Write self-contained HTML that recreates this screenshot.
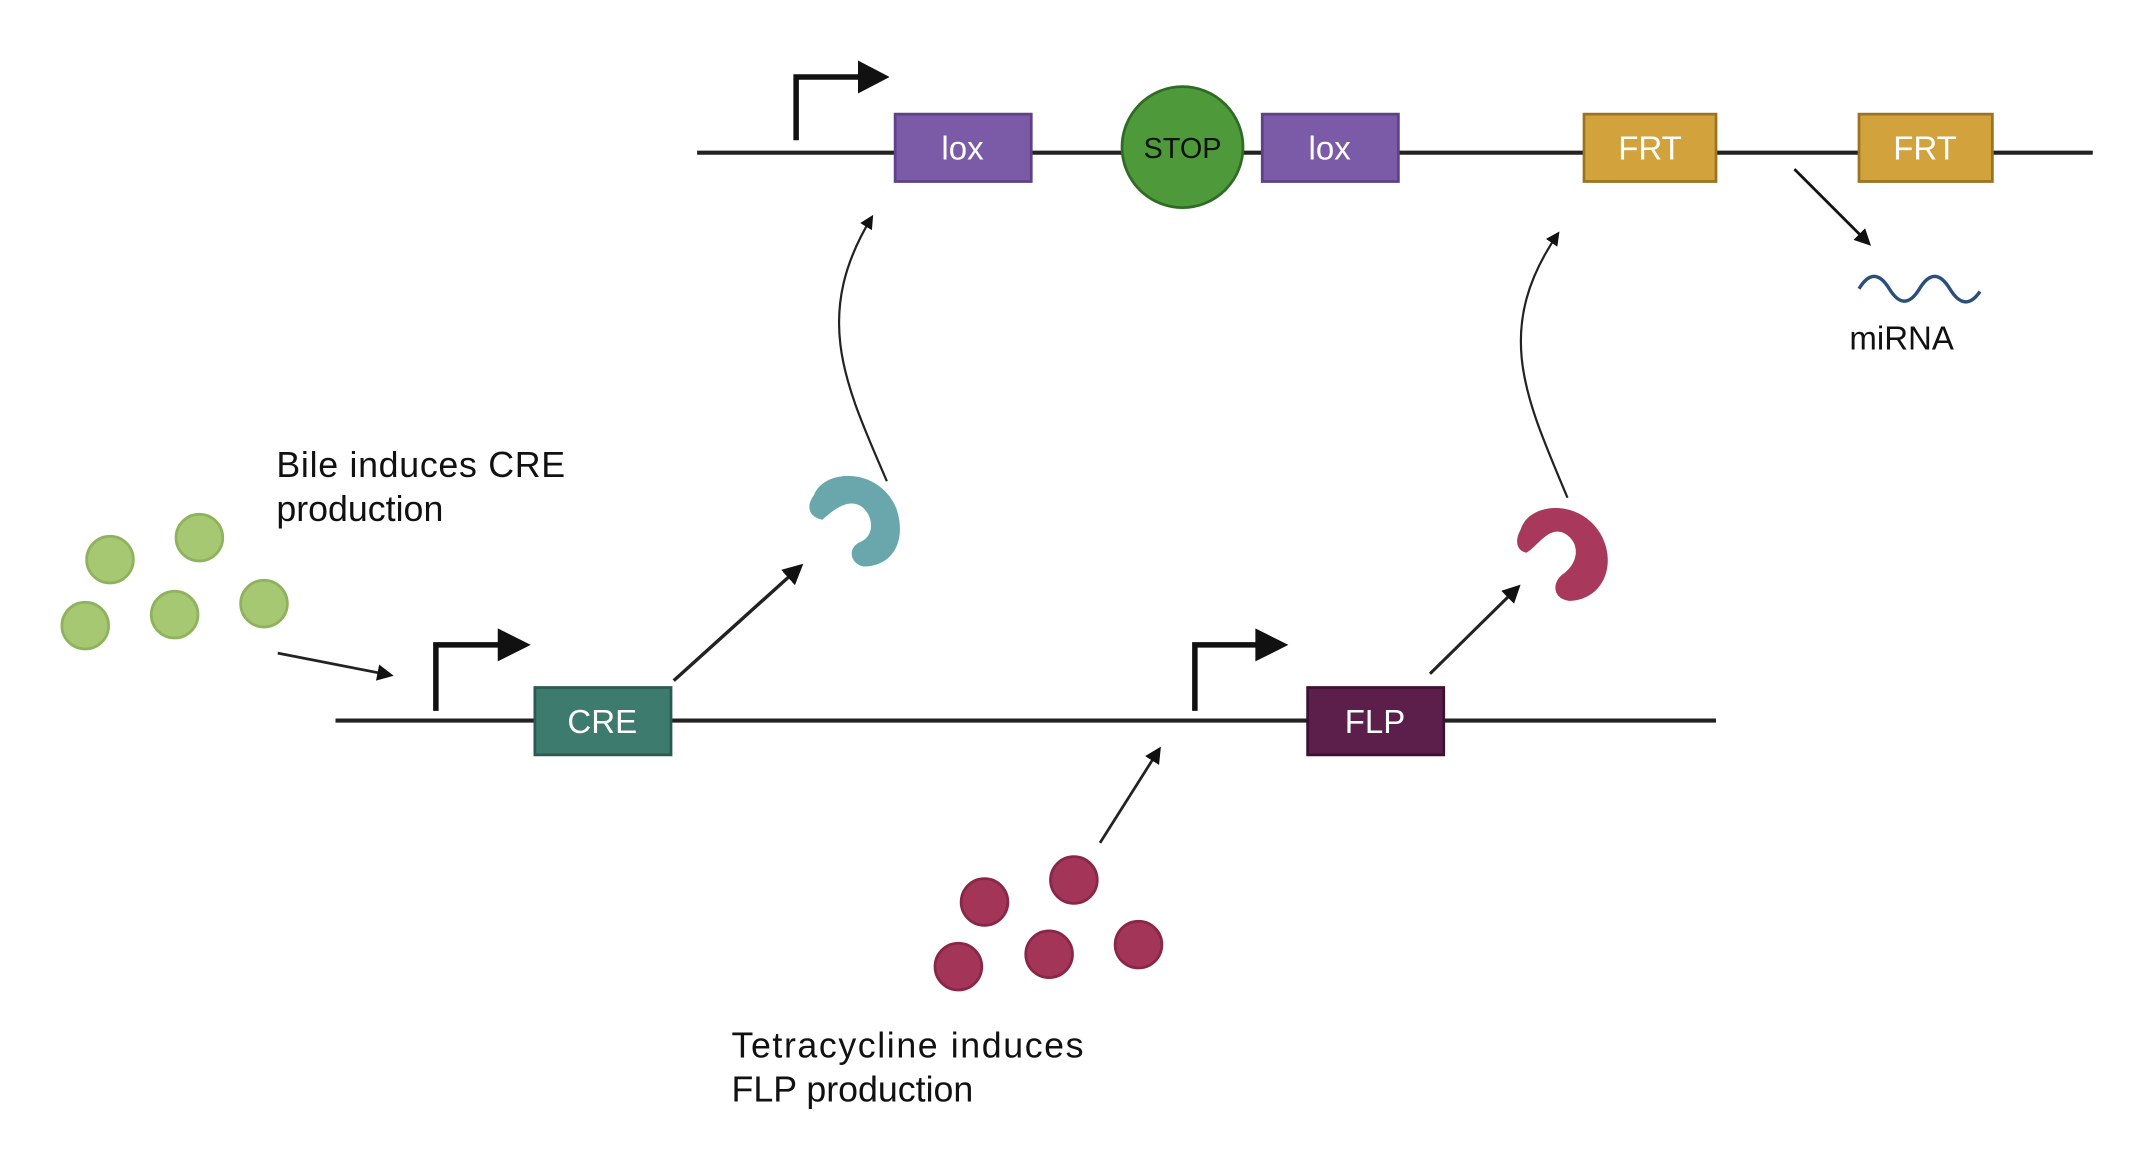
<!DOCTYPE html>
<html><head><meta charset="utf-8"><style>
html,body{margin:0;padding:0;background:#fff;}
svg{display:block;font-family:"Liberation Sans",sans-serif;}
</style></head><body>
<svg width="2145" height="1166" viewBox="0 0 1560 848" preserveAspectRatio="none">
<defs>
<marker id="ah" viewBox="0 0 10 10" refX="8" refY="5" markerWidth="6" markerHeight="6" orient="auto"><path d="M0,0 L10,5 L0,10 z" fill="#111"/></marker>
<marker id="ah2" viewBox="0 0 10 10" refX="8" refY="5" markerWidth="10" markerHeight="10" orient="auto" markerUnits="userSpaceOnUse"><path d="M0,0 L10,5 L0,10 z" fill="#111"/></marker>
</defs>
<rect width="1560" height="848" fill="#fff"/>
<line x1="507" y1="111" x2="1522" y2="111" stroke="#222" stroke-width="3"/>
<g><path d="M579,102 V56 H626" fill="none" stroke="#111" stroke-width="4"/><path d="M624,44 L647,56 L624,68 z" fill="#111"/></g>
<g><rect x="651" y="83" width="99" height="49" fill="#7b5aa8" stroke="#5e4288" stroke-width="2"/><text x="700" y="116" text-anchor="middle" font-size="24" fill="#fff">lox</text></g>
<g><circle cx="860" cy="107" r="44" fill="#4e9a3a" stroke="#2f6b25" stroke-width="2"/><text x="860" y="115" text-anchor="middle" font-size="21" fill="#111">STOP</text></g>
<g><rect x="918" y="83" width="99" height="49" fill="#7b5aa8" stroke="#5e4288" stroke-width="2"/><text x="967" y="116" text-anchor="middle" font-size="24" fill="#fff">lox</text></g>
<g><rect x="1152" y="83" width="96" height="49" fill="#d2a33c" stroke="#9c7420" stroke-width="2"/><text x="1200" y="116" text-anchor="middle" font-size="24" fill="#fff">FRT</text></g>
<g><rect x="1352" y="83" width="97" height="49" fill="#d2a33c" stroke="#9c7420" stroke-width="2"/><text x="1400" y="116" text-anchor="middle" font-size="24" fill="#fff">FRT</text></g>
<line x1="1305" y1="123" x2="1359" y2="177" stroke="#111" stroke-width="2" marker-end="url(#ah)"/>
<path d="M1352,210 Q1363,192 1374,210 T1396,210 T1418,210 T1440,212" fill="none" stroke="#2b4f7a" stroke-width="2.5"/>
<text x="1345" y="254" font-size="24" fill="#111">miRNA</text>
<path d="M645,350 C615,280 590,230 634,158" fill="none" stroke="#222" stroke-width="1.6" marker-end="url(#ah2)"/>
<path d="M1140,362 C1110,290 1085,240 1133,170" fill="none" stroke="#222" stroke-width="1.6" marker-end="url(#ah2)"/>
<line x1="244" y1="524" x2="1248" y2="524" stroke="#222" stroke-width="3"/>
<g><path d="M317,517 V469 H364" fill="none" stroke="#111" stroke-width="4"/><path d="M362,457 L386,469 L362,481 z" fill="#111"/></g>
<g><path d="M869,517 V469 H915" fill="none" stroke="#111" stroke-width="4"/><path d="M913,457 L937,469 L913,481 z" fill="#111"/></g>
<g><rect x="389" y="500" width="99" height="49" fill="#3e7b6f" stroke="#2a5a50" stroke-width="2"/><text x="438" y="533" text-anchor="middle" font-size="24" fill="#fff">CRE</text></g>
<g><rect x="951" y="500" width="99" height="49" fill="#5c1f4c" stroke="#3e1032" stroke-width="2"/><text x="1000" y="533" text-anchor="middle" font-size="24" fill="#fff">FLP</text></g>
<line x1="490" y1="495" x2="582" y2="412" stroke="#222" stroke-width="2.5" marker-end="url(#ah)"/>
<line x1="1040" y1="490" x2="1104" y2="427" stroke="#222" stroke-width="2.2" marker-end="url(#ah)"/>
<line x1="202" y1="475" x2="284" y2="491" stroke="#222" stroke-width="2" marker-end="url(#ah)"/>
<line x1="800" y1="613" x2="843" y2="545" stroke="#222" stroke-width="2" marker-end="url(#ah)"/>
<path d="M592,360 C600,340 640,340 652,370 C660,395 648,412 628,412 C618,410 616,398 626,394 C636,390 636,375 626,368 C616,362 605,372 598,378 C588,376 586,368 592,360 z" fill="#6aa7ad"/>
<path d="M1106,385 C1112,365 1150,362 1165,390 C1176,412 1165,436 1142,437 C1130,436 1128,425 1136,418 C1148,410 1150,395 1138,388 C1126,382 1118,398 1110,402 C1102,400 1102,392 1106,385 z" fill="#a8385c"/>
<g fill="#a6c873" stroke="#8fb35c" stroke-width="2">
<circle cx="80" cy="407" r="17"/><circle cx="145" cy="391" r="17"/><circle cx="62" cy="455" r="17"/><circle cx="127" cy="447" r="17"/><circle cx="192" cy="439" r="17"/>
</g>
<g fill="#a33658" stroke="#8a2648" stroke-width="2">
<circle cx="716" cy="656" r="17"/><circle cx="781" cy="640" r="17"/><circle cx="697" cy="703" r="17"/><circle cx="763" cy="694" r="17"/><circle cx="828" cy="687" r="17"/>
</g>
<text font-size="26" fill="#111"><tspan x="201" y="347" textLength="210">Bile induces CRE</tspan><tspan x="201" y="379">production</tspan></text>
<text font-size="26" fill="#111"><tspan x="532" y="769" textLength="256">Tetracycline induces</tspan><tspan x="532" y="801">FLP production</tspan></text>
</svg>
</body></html>
